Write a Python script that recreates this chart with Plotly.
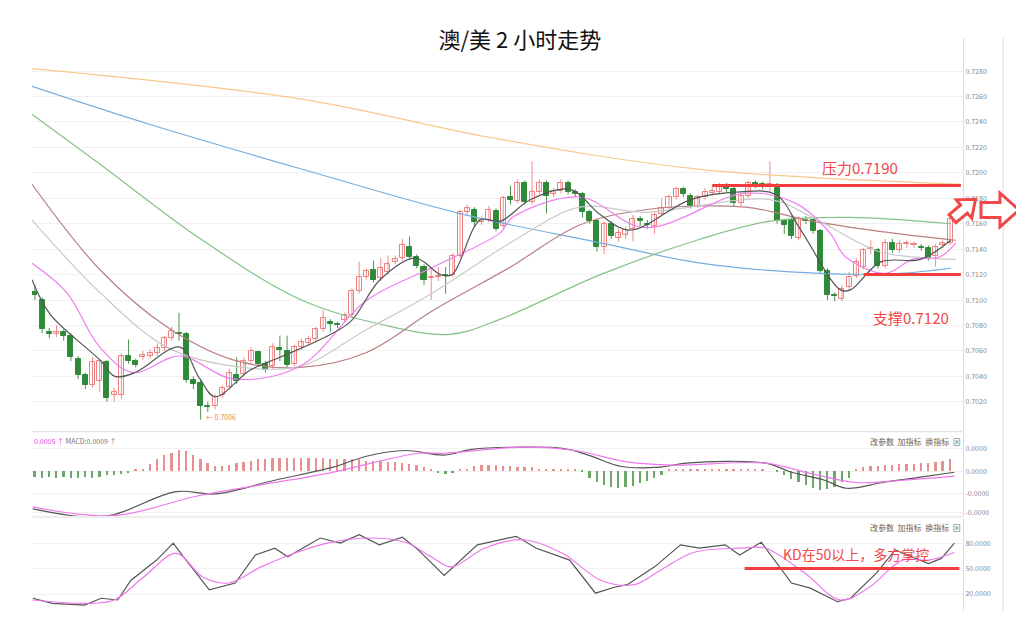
import math
import plotly.graph_objects as go

# candles: last four digits of the price, e.g. 1104 -> 0.7104
opens = [1106, 1100, 1075, 1073, 1075, 1072, 1054, 1041, 1033, 1036, 1051, 1025, 1025, 1056, 1052, 1055,
         1056, 1058, 1062, 1070, 1074, 1073, 1037, 1035, 1017, 1017, 1025, 1032, 1041, 1042, 1052, 1059,
         1050, 1048, 1062, 1060, 1050, 1063, 1066, 1069, 1077, 1083, 1081, 1084, 1088, 1107, 1118, 1124,
         1117, 1122, 1130, 1133, 1142, 1134, 1126, 1117, 1118, 1120, 1120, 1135, 1169, 1171, 1161, 1163,
         1170, 1158, 1181, 1178, 1192, 1177, 1185, 1192, 1183, 1186, 1192, 1185, 1183, 1169, 1162, 1142,
         1160, 1149, 1151, 1156, 1164, 1160, 1158, 1168, 1172, 1181, 1187, 1182, 1174, 1181, 1184, 1185,
         1190, 1187, 1176, 1182, 1192, 1191, 1190, 1188, 1162, 1163, 1149, 1163, 1163, 1154, 1123, 1104,
         1101, 1110, 1119, 1126, 1140, 1139, 1127, 1145, 1139, 1144, 1143, 1142, 1141, 1135, 1143, 1145]
closes = [1104, 1077, 1073, 1075, 1072, 1055, 1041, 1033, 1051, 1052, 1023, 1028, 1056, 1052, 1049, 1057,
          1058, 1062, 1070, 1076, 1073, 1037, 1034, 1017, 1016, 1024, 1031, 1043, 1036, 1052, 1060, 1050,
          1045, 1063, 1061, 1049, 1063, 1067, 1069, 1077, 1086, 1081, 1080, 1088, 1107, 1118, 1123, 1116,
          1125, 1128, 1132, 1143, 1134, 1127, 1116, 1118, 1119, 1119, 1135, 1169, 1172, 1161, 1163, 1171,
          1156, 1180, 1179, 1192, 1177, 1185, 1192, 1182, 1186, 1192, 1185, 1183, 1169, 1162, 1142, 1160,
          1150, 1153, 1155, 1164, 1162, 1159, 1167, 1172, 1181, 1187, 1183, 1174, 1181, 1185, 1186, 1190,
          1187, 1176, 1182, 1192, 1190, 1189, 1191, 1162, 1159, 1150, 1164, 1162, 1154, 1123, 1104, 1103,
          1109, 1118, 1130, 1139, 1140, 1127, 1145, 1139, 1144, 1144, 1144, 1141, 1133, 1142, 1145, 1164]
highs = [1112, 1102, 1078, 1080, 1077, 1074, 1056, 1043, 1055, 1054, 1053, 1031, 1058, 1069, 1054, 1060,
         1061, 1066, 1072, 1079, 1090, 1075, 1040, 1038, 1020, 1026, 1033, 1046, 1055, 1055, 1063, 1060,
         1052, 1066, 1072, 1072, 1065, 1070, 1072, 1079, 1092, 1085, 1083, 1090, 1109, 1130, 1125, 1131,
         1133, 1135, 1135, 1148, 1150, 1136, 1128, 1125, 1126, 1126, 1137, 1171, 1175, 1173, 1166, 1174,
         1172, 1182, 1190, 1195, 1194, 1209, 1195, 1194, 1188, 1195, 1194, 1187, 1185, 1171, 1164, 1162,
         1162, 1156, 1158, 1167, 1166, 1163, 1169, 1180, 1183, 1189, 1189, 1184, 1183, 1188, 1189, 1192,
         1192, 1189, 1184, 1194, 1194, 1193, 1209, 1192, 1163, 1165, 1166, 1166, 1165, 1156, 1125, 1106,
         1112, 1122, 1133, 1141, 1147, 1141, 1148, 1148, 1147, 1147, 1146, 1144, 1143, 1144, 1147, 1166]
lows = [1100, 1074, 1070, 1071, 1068, 1052, 1038, 1030, 1031, 1028, 1020, 1020, 1022, 1050, 1047, 1053,
        1054, 1056, 1060, 1068, 1068, 1035, 1030, 1006, 1012, 1014, 1023, 1030, 1034, 1040, 1050, 1048,
        1043, 1046, 1052, 1047, 1048, 1061, 1064, 1067, 1075, 1075, 1078, 1082, 1086, 1105, 1116, 1114,
        1115, 1120, 1128, 1131, 1132, 1125, 1112, 1100, 1115, 1105, 1118, 1133, 1167, 1158, 1159, 1161,
        1154, 1156, 1175, 1176, 1175, 1175, 1183, 1168, 1181, 1184, 1183, 1181, 1165, 1160, 1138, 1136,
        1148, 1146, 1148, 1146, 1158, 1156, 1152, 1166, 1170, 1179, 1181, 1172, 1172, 1179, 1182, 1183,
        1185, 1174, 1174, 1180, 1188, 1187, 1186, 1160, 1152, 1148, 1147, 1160, 1152, 1121, 1100, 1099,
        1099, 1108, 1117, 1124, 1136, 1125, 1125, 1137, 1137, 1141, 1141, 1139, 1131, 1126, 1141, 1143]

# moving averages: (bar index, last four digits)
ma_long_x = [-0.4, 37, 64, 92, 128.5]
ma_long_y = [1282, 1258, 1227, 1203, 1191]
ma_blue_x = [-0.4, 16, 37, 59, 78.5, 92.4, 109, 120, 127.1]
ma_blue_y = [1268, 1238, 1203, 1168, 1145, 1129, 1121, 1121, 1125]
ma_green_x = [-0.4, 9, 23, 37, 48, 57.6, 64.6, 78.5, 92.4, 102, 113, 127.1]
ma_green_y = [1246, 1207, 1148, 1100, 1081, 1073, 1085, 1120, 1148, 1162, 1165, 1160]
ma_brown_x = [-0.4, 9, 18.3, 27.5, 36.8, 46.1, 55.3, 66, 75.6, 84.7, 98.6, 107.9, 117.2, 127.8]
ma_brown_y = [1191, 1124, 1079, 1053, 1047, 1059, 1092, 1126, 1159, 1171, 1173, 1162, 1154, 1147]
ma_gray_x = [-0.4, 9, 18.3, 27.5, 36.8, 46.1, 55.3, 66, 75.6, 84.7, 102, 107.9, 117.2, 124.2, 127.8]
ma_gray_y = [1163, 1106, 1063, 1048, 1048, 1077, 1106, 1145, 1173, 1169, 1179, 1165, 1138, 1133, 1132]
ma_pink_x = [-0.4, 4.4, 9, 13.6, 20.1, 27.5, 36.8, 46.1, 55.3, 64.6, 66.3, 75.6, 84.7, 98.6, 105.6, 110.3,
             112.5, 118, 121.8, 125.6, 127.8]
ma_pink_y = [1129, 1106, 1063, 1043, 1056, 1038, 1048, 1100, 1126, 1153, 1165, 1181, 1157, 1184, 1176, 1153,
             1134, 1121, 1132, 1134, 1145]
ma_fast_x = [-0.4, 2.1, 9, 11.1, 13.9, 20.1, 22.9, 25, 29.9, 34, 39.6, 43.8, 47.9, 52.8, 56.3, 57.9, 61.8,
             64.6, 68.8, 74.3, 78.5, 82.6, 91, 97.9, 102.8, 106.3, 111.8, 113.2, 117.4, 122.9, 127.1]
ma_fast_y = [1116, 1089, 1053, 1040, 1043, 1063, 1038, 1024, 1045, 1055, 1069, 1083, 1116, 1133, 1120, 1120,
             1163, 1162, 1179, 1187, 1167, 1155, 1179, 1185, 1183, 1155, 1108, 1108, 1130, 1132, 1147]

# MACD histogram per bar (chart units)
macd_hist = [-0.25, -0.3, -0.25, -0.3, -0.25, -0.3, -0.3, -0.25, -0.3, -0.25, -0.2, -0.2, -0.15, -0.1,
             0.05, 0.1, 0.3, 0.5, 0.7, 0.8, 0.9, 0.85, 0.7, 0.5, 0.35, 0.2, 0.2, 0.25,
             0.35, 0.4, 0.45, 0.5, 0.5, 0.55, 0.55, 0.55, 0.55, 0.55, 0.55, 0.55, 0.55, 0.5, 0.5, 0.5,
             0.5, 0.5, 0.45, 0.45, 0.45, 0.4, 0.4, 0.35, 0.3, 0.25, 0.15, 0.1,
             -0.1, -0.15, -0.1, 0.05, 0.1,
             0.2, 0.25, 0.25, 0.25, 0.2, 0.2, 0.15, 0.15, 0.15, 0.1, 0.1, 0.1, 0.05, 0.05, 0.05, -0.05,
             -0.3, -0.5, -0.6, -0.7, -0.75, -0.7, -0.65, -0.55, -0.45, -0.3, -0.2,
             0.05, 0.05, 0.05, 0.05, 0.05, 0.05, 0.05, 0.05, 0.05, 0.05, 0.05, 0.05, 0.05, 0.05, 0.0, -0.05,
             -0.2, -0.35, -0.5, -0.6, -0.75, -0.85, -0.8, -0.7, -0.5, -0.3,
             0.1, 0.15, 0.2, 0.2, 0.25, 0.25, 0.3, 0.3, 0.3, 0.35, 0.35, 0.4, 0.45, 0.5]
dif_x = [-0.3, 6.9, 11, 19.6, 25.1, 33.3, 41.4, 46, 51.4, 56.8, 60.6, 67.8, 73.2, 76.8, 81.4, 86.8, 90.4,
         101.4, 105, 109.6, 112.6, 117.6, 122.2, 127.6]
dif_y = [-1.65, -2.0, -1.9, -0.9, -1.0, -0.4, 0.17, 0.65, 0.9, 0.7, 0.95, 1.05, 1.0, 0.7, 0.2, 0.17, 0.35,
         0.35, -0.05, -0.4, -0.75, -0.5, -0.3, -0.05]
dea_x = [-0.3, 11, 22.4, 31.4, 40.6, 53.2, 56.8, 67.8, 75, 82.2, 88.6, 101.4, 107.6, 114, 120.4, 127.6]
dea_y = [-1.57, -1.95, -1.1, -0.6, -0.1, 0.78, 0.78, 1.05, 0.9, 0.4, 0.26, 0.35, -0.1, -0.5, -0.4, -0.22]

# KD
k_x = [-0.3, 2.4, 6.9, 9.2, 11.5, 13.3, 16.9, 19.2, 20.6, 24.2, 27.8, 30.6, 33.3, 35.1, 39.6, 42.4, 45,
       47.8, 51, 53.2, 56.8, 61.4, 66.8, 69.6, 74.2, 77.8, 80.4, 82.2, 86, 89.6, 92.2, 95.8, 97.8, 100.8,
       105, 107.6, 111.4, 113.2, 116.8, 119.4, 124, 125.8, 127.6]
k_y = [15, 9, 7, 15, 13, 36, 60, 80, 64, 25, 33, 66, 74, 64, 86, 80, 90, 78, 87, 72, 42, 78, 88, 74, 60,
       21, 28, 31, 52, 78, 74, 78, 66, 81, 33, 27, 11, 15, 45, 72, 56, 62, 80]
d_x = [-0.3, 6.9, 11, 15.1, 19.6, 23.3, 26.9, 31.4, 36, 40.6, 46, 51.4, 55, 57.8, 62.4, 67.8, 73.2, 78.6,
       83.2, 86.8, 91.4, 97.8, 101.4, 106.8, 111.8, 115.8, 120.4, 124, 127.6]
d_y = [13, 9, 13, 40, 68, 40, 33, 52, 68, 80, 86, 81, 64, 52, 74, 84, 68, 36, 31, 48, 69, 74, 74, 45, 13,
       28, 60, 60, 69]

price_ticks = [1020, 1040, 1060, 1080, 1100, 1120, 1140, 1160, 1180, 1200, 1220, 1240, 1260, 1280]
resistance = 1190
support = 1120
kd_level = 50


def px(p):
    return [0.6 + v / 10000 for v in p]


UP = "#ef7f7f"
DOWN = "#2f8a3a"
fig = go.Figure()
bars = list(range(len(closes)))
for want_up, col in [(True, UP), (False, DOWN)]:
    wx, wy = [], []
    for i in bars:
        if (closes[i] >= opens[i]) == want_up:
            wx += [i, i, None]
            wy += [0.6 + lows[i] / 10000, 0.6 + highs[i] / 10000, None]
    fig.add_trace(go.Scatter(x=wx, y=wy, mode="lines", line=dict(color=col, width=0.9),
                             showlegend=False, hoverinfo="skip", xaxis="x", yaxis="y"))

body_lo = px([min(o, c) for o, c in zip(opens, closes)])
body_hi = px([max(o, c) + (1 if o == c else 0) for o, c in zip(opens, closes)])
fig.add_trace(go.Bar(
    x=bars, base=body_lo, y=[h - l for h, l in zip(body_hi, body_lo)], width=0.7,
    marker=dict(color=["white" if c >= o else DOWN for o, c in zip(opens, closes)],
                line=dict(color=[UP if c >= o else DOWN for o, c in zip(opens, closes)], width=1)),
    showlegend=False, xaxis="x", yaxis="y"))

for xs, ys, col in [(ma_long_x, ma_long_y, "#f8c98a"), (ma_blue_x, ma_blue_y, "#74aee0"),
                    (ma_green_x, ma_green_y, "#86c286"), (ma_brown_x, ma_brown_y, "#b88080"),
                    (ma_gray_x, ma_gray_y, "#c9c9c9"), (ma_pink_x, ma_pink_y, "#f07ef0"),
                    (ma_fast_x, ma_fast_y, "#555555")]:
    fig.add_trace(go.Scatter(x=xs, y=px(ys), mode="lines", line=dict(color=col, width=1.2, shape="spline"),
                             showlegend=False, hoverinfo="skip", xaxis="x", yaxis="y"))

fig.add_trace(go.Bar(x=bars, y=macd_hist, width=0.25,
                     marker=dict(color=["#e89090" if v >= 0 else "#6aa86a" for v in macd_hist], line_width=0),
                     showlegend=False, xaxis="x2", yaxis="y2"))
fig.add_trace(go.Scatter(x=dif_x, y=dif_y, mode="lines", line=dict(color="#555555", width=1.2, shape="spline"),
                         showlegend=False, xaxis="x2", yaxis="y2"))
fig.add_trace(go.Scatter(x=dea_x, y=dea_y, mode="lines", line=dict(color="#ee77ee", width=1.2, shape="spline"),
                         showlegend=False, xaxis="x2", yaxis="y2"))
fig.add_trace(go.Scatter(x=k_x, y=k_y, mode="lines", line=dict(color="#555555", width=1.2),
                         showlegend=False, xaxis="x3", yaxis="y3"))
fig.add_trace(go.Scatter(x=d_x, y=d_y, mode="lines", line=dict(color="#ee77ee", width=1.2, shape="spline"),
                         showlegend=False, xaxis="x3", yaxis="y3"))

# key levels
fig.add_trace(go.Scatter(x=[94, 128.5], y=px([resistance] * 2), mode="lines",
                         line=dict(color="#f03c3c", width=3), showlegend=False, xaxis="x", yaxis="y"))
fig.add_trace(go.Scatter(x=[115, 128.5], y=px([support] * 2), mode="lines",
                         line=dict(color="#f03c3c", width=3), showlegend=False, xaxis="x", yaxis="y"))
fig.add_trace(go.Scatter(x=[98.5, 128.3], y=[kd_level] * 2, mode="lines",
                         line=dict(color="#f03c3c", width=3), showlegend=False, xaxis="x3", yaxis="y3"))

grid = "#f1f1f1"
xr = [-0.4, 128.8]
tickfont = dict(size=7, color="#888888")
hidden_x = dict(domain=[0, 1], range=xr, showticklabels=False, showgrid=False, zeroline=False, ticks="")
# page body has an 8px margin, so the figure is shifted; sizes compensate
fig.update_layout(
    width=1016, height=611, margin=dict(l=24, r=61, t=30, b=8),
    paper_bgcolor="white", plot_bgcolor="white", bargap=0, barmode="overlay",
    font=dict(family="Noto Sans CJK SC, Noto Sans, sans-serif"),
    xaxis=dict(hidden_x, anchor="y"),
    xaxis2=dict(hidden_x, anchor="y2"),
    xaxis3=dict(hidden_x, anchor="y3"),
    yaxis=dict(domain=[0.314, 1], range=[0.6997, 0.7306], side="right", tickvals=px(price_ticks),
               ticktext=["0.7%03d" % (v - 1000) for v in price_ticks],
               tickfont=tickfont, gridcolor=grid, zeroline=False, showline=True, linecolor="#dddddd"),
    yaxis2=dict(domain=[0.166, 0.312], range=[-1.96, 1.7], side="right", tickvals=[1, 0, -1, -1.8],
                ticktext=["0.0000", "0.0000", "-0.0000", "-0.0000"], tickfont=tickfont, gridcolor=grid,
                zeroline=False, showline=True, linecolor="#dddddd"),
    yaxis3=dict(domain=[0, 0.162], range=[0, 109.4], side="right", tickvals=[80, 50, 20],
                ticktext=["80.0000", "50.0000", "20.0000"], tickfont=tickfont, gridcolor=grid,
                zeroline=False, showline=True, linecolor="#dddddd"),
    title=dict(text="澳/美 2 小时走势", x=0.524, xanchor="center", xref="paper", y=1 - 32 / 611,
               yref="container", yanchor="middle", font=dict(size=22, color="#111111")),
)

# panel separators and outer right frame line
for yy in [0.313, 0.164]:
    fig.add_shape(type="line", xref="paper", yref="paper", x0=0, x1=1.0, y0=yy, y1=yy,
                  line=dict(color="#dddddd", width=1))
fig.add_shape(type="line", xref="paper", yref="paper", x0=1.043, x1=1.043, y0=0, y1=1,
              line=dict(color="#dddddd", width=1))


# hollow arrows drawn in page pixel space, converted to paper coords
def arrow_path(cx, cy, length, height, angle_deg):
    pts = [(-0.5, -0.22), (0.0, -0.22), (0.0, -0.5), (0.5, 0.0), (0.0, 0.5), (0.0, 0.22), (-0.5, 0.22)]
    a = math.radians(angle_deg)
    out = []
    for ux, uy in pts:
        x, y = ux * length, uy * height
        rx = x * math.cos(a) + y * math.sin(a)
        ry = -x * math.sin(a) + y * math.cos(a)
        out.append(((cx + rx - 32) / 931, (611 - cy - ry) / 573))
    return "M " + " L ".join("%.4f,%.4f" % p for p in out) + " Z"


red = "#f04848"
fig.add_shape(type="path", xref="paper", yref="paper", path=arrow_path(964, 209, 30, 24, 40),
              line=dict(color=red, width=3), fillcolor="white")
fig.add_shape(type="path", xref="paper", yref="paper", path=arrow_path(1000, 210, 38, 34, 0),
              line=dict(color=red, width=3), fillcolor="white")

fig.add_annotation(x=109, y=0.7204, text="压力0.7190", showarrow=False, xanchor="left",
                   font=dict(size=15, color=red))
fig.add_annotation(x=116, y=0.7086, text="支撑0.7120", showarrow=False, xanchor="left",
                   font=dict(size=15, color=red))
fig.add_annotation(x=103.5, y=67, xref="x3", yref="y3", text="KD在50以上，多方掌控", showarrow=False,
                   xanchor="left", font=dict(size=14, color=red))
fig.add_annotation(x=23.5, y=0.7008, text="← 0.7006", showarrow=False, xanchor="left",
                   font=dict(size=7, color="#e8884a"))

# panel header texts
fig.add_annotation(x=0, y=0.309, xref="paper", yref="paper",
                   text="<span style='color:#e040e0'>0.0005 ↑</span> MACD:0.0009 ↑",
                   showarrow=False, xanchor="left", yanchor="top", font=dict(size=7, color="#777777"))
for yy in [0.309, 0.159]:
    fig.add_annotation(x=1.0, y=yy, xref="paper", yref="paper", text="改参数  加指标  换指标  ⊠",
                       showarrow=False, xanchor="right", yanchor="top", font=dict(size=8, color="#666666"))

fig.write_html("out.html")
